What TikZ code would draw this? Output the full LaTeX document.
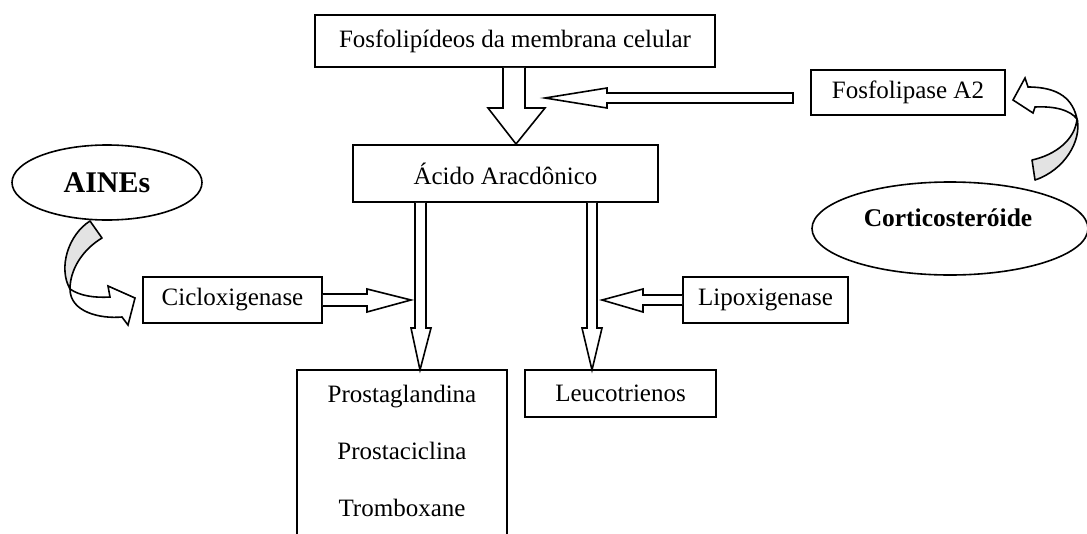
\documentclass[tikz,border=0pt]{standalone}
\usepackage{fontspec}
\setmainfont{Liberation Serif}
\usetikzlibrary{calc,shapes.geometric}
\begin{document}
\begin{tikzpicture}[x=1pt,y=-1pt,line width=1.6pt,line join=miter,
  font=\fontsize{25}{30}\selectfont,
  box/.style={draw,rectangle,inner sep=0pt},
  oval/.style={draw,ellipse,inner sep=0pt},
  fat/.style={draw,fill=white},
  ribbon/.style={draw,fill=gray!22,line join=round},
  ribbontop/.style={draw,fill=white,line join=miter}]
\useasboundingbox (0,0) rectangle (1087,533);
\clip (0,0) rectangle (1087,533);

% boxes
\node[box,minimum width=400pt,minimum height=52pt] (F) at (515,41) {Fosfolipídeos da membrana celular};
\node[box,minimum width=305pt,minimum height=57pt] (A) at (505.5,173.5) {Ácido Aracdônico};
\node[box,minimum width=194pt,minimum height=45pt] (PL) at (908,92.5) {Fosfolipase A2};
\node[box,minimum width=179pt,minimum height=46pt] (COX) at (232.5,300) {Cicloxigenase};
\node[box,minimum width=165pt,minimum height=46pt] (LOX) at (765.5,300) {Lipoxigenase};
\node[box,minimum width=191pt,minimum height=47pt] (LT) at (620.5,393.5) {Leucotrienos};
\node[box,minimum width=210pt,minimum height=200pt] (P) at (402,470) {};
\node[align=center,font=\fontsize{25}{57}\selectfont] (Ptxt) at (402,451) {Prostaglandina\\Prostaciclina\\Tromboxane};

% ellipses
\node[oval,minimum width=190pt,minimum height=75pt,font=\fontsize{30}{36}\selectfont\bfseries] (N) at (107,182.5) {AINEs};
\node[oval,minimum width=276pt,minimum height=93pt] (C) at (950,228.5) {};
\node[font=\fontsize{25.5}{30}\selectfont\bfseries] (Ctxt) at ($(C.center)+(-2,-10.5)$) {Corticosteróide};

% fat arrows
\draw[fat] (F.south -| 503,0) -- (503,108) -- (488,108) -- (516,144) -- (545,108) -- (525,108) -- (F.south -| 525,0);
\draw[fat] (793,93) -- (607,93) -- (607,88) -- (545,98) -- (607,108) -- (607,103) -- (793,103) -- cycle;
\draw[fat] (A.south -| 415,0) -- (415,328) -- (411,328) -- (420,370) -- (431,328) -- (426,328) -- (A.south -| 426,0);
\draw[fat] (A.south -| 587,0) -- (587,328) -- (582,328) -- (592,370) -- (602,328) -- (597,328) -- (A.south -| 597,0);
\draw[fat] (COX.east |- 0,294) -- (367,294) -- (367,289) -- (411,300) -- (367,312) -- (367,306) -- (COX.east |- 0,306);
\draw[fat] (LOX.west |- 0,295) -- (643,295) -- (643,289) -- (602,300) -- (643,312) -- (643,305) -- (LOX.west |- 0,305);

% curved arrow AINEs -> Cicloxigenase
\coordinate (tL) at (70,289);
\draw[ribbon] (90,221) .. controls (68,235) and (58,268) .. (tL)
  .. controls (70,270) and (82,250) .. (102,238) -- cycle;
\draw[ribbontop] (tL) .. controls (80,296) and (95,298) .. (110,297)
  -- (108,286) -- (135,298) -- (128,325) -- (122,317)
  .. controls (100,319) and (70,312) .. (tL) -- cycle;

% curved arrow Corticosteroide -> Fosfolipase
\coordinate (tR) at (1077,119);
\draw[ribbon] (1032,160) .. controls (1055,155) and (1075,140) .. (tR)
  .. controls (1082,140) and (1065,170) .. (1035,180) -- cycle;
\draw[ribbontop] (tR) .. controls (1073,100) and (1060,87) .. (1028,87)
  -- (1025,78) -- (1013,100) -- (1033,113) -- (1035,107)
  .. controls (1055,106) and (1070,110) .. (tR) -- cycle;
\end{tikzpicture}
\end{document}
